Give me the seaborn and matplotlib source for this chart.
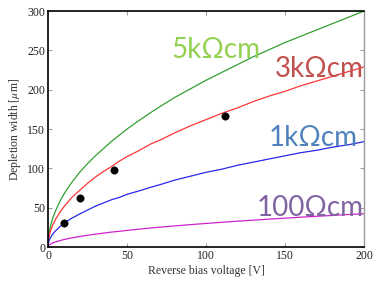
import matplotlib
matplotlib.use("Agg")
import matplotlib.pyplot as plt
import seaborn as sns
import pandas as pd

# Reverse bias voltage [V] at which the curves were read
voltage = [0, 0.25, 0.5, 1, 1.5, 2, 3, 4, 5, 7.5, 10, 12.5, 15, 20, 25, 30,
           35, 40, 45, 50, 57, 65, 72, 80, 90, 100, 110, 120, 130, 140,
           150, 160, 170, 180, 190, 200]

# Depletion width [um] for each resistivity
width_5k = [0, 11, 15, 21, 26, 30, 37, 42, 47, 58, 67, 75, 82, 95, 106, 116,
            125, 134, 142, 150, 160, 171, 180, 190, 201, 212, 222, 232,
            242, 251, 260, 268, 276, 284, 292, 300]
width_3k = [0, 8, 11, 16, 20, 23, 28, 32, 36, 44, 51, 57, 63, 72, 81, 89,
            96, 102, 109, 115, 122, 131, 137, 145, 154, 162, 170, 177,
            185, 192, 198, 205, 211, 217, 223, 229]
width_1k = [0, 4.7, 6.7, 9.5, 11.6, 13.4, 16.4, 18.9, 21, 26, 30, 33.4, 36.6,
            42, 47, 52, 56, 60, 63, 67, 71, 76, 80, 85, 90, 95, 99, 104,
            108, 112, 116, 120, 123, 127, 130, 134]
width_100 = [0, 1.5, 2.1, 3, 3.7, 4.2, 5.2, 6, 6.7, 8.2, 9.5, 10.6, 11.6,
             13.4, 15, 16.4, 17.7, 19, 20, 21.2, 22.6, 24.2, 25.5, 26.8,
             28.5, 30, 31.5, 32.9, 34.2, 35.5, 36.7, 38, 39.1, 40.2, 41.4,
             42.4]

# Measured points
meas_v = [10, 20, 42, 112]
meas_w = [31, 62, 98, 166]

sns.set_style("ticks")
plt.rcParams["font.family"] = ["Liberation Serif", "DejaVu Serif"]
plt.rcParams["mathtext.fontset"] = "stix"

fig = plt.figure(figsize=(3.84, 2.91), dpi=100)
ax = fig.add_axes([0.125, 0.151, 0.823, 0.811])

curves = [(width_5k, "#33a033"), (width_3k, "#ff3535"),
          (width_1k, "#2828ee"), (width_100, "#cc22cc")]
for w, c in curves:
    df = pd.DataFrame({"V": voltage, "W": w})
    sns.lineplot(data=df, x="V", y="W", ax=ax, color=c, linewidth=0.9)

sns.scatterplot(x=meas_v, y=meas_w, ax=ax, color="black", s=28,
                edgecolor="black", zorder=5)

ax.set_xlim(0, 200)
ax.set_ylim(0, 300)
ax.set_xticks([0, 50, 100, 150, 200])
ax.set_yticks([0, 50, 100, 150, 200, 250, 300])
ax.tick_params(direction="in", top=True, right=True, labelsize=8.5,
               length=3, width=0.6, colors="#888888", labelcolor="#222222",
               pad=2)
for s in ["left", "bottom", "top"]:
    ax.spines[s].set_linewidth(1.2)
    ax.spines[s].set_color("black")
ax.spines["right"].set_color("#999999")
ax.spines["right"].set_linewidth(1.0)

ax.set_xlabel("Reverse bias voltage [V]", fontsize=8.5, color="#333333", labelpad=2)
ax.set_ylabel(r"Depletion width [$\mu$m]", fontsize=8.5, color="#333333", labelpad=3)

lab = dict(family=["Lato", "DejaVu Sans"], fontsize=20, transform=ax.transData)
ax.text(78, 250, "5k\u03a9cm", color="#92D050", ha="left", va="center", **lab)
ax.text(200, 226, "3k\u03a9cm", color="#C0504D", ha="right", va="center", **lab)
ax.text(196, 139, "1k\u03a9cm", color="#4F81BD", ha="right", va="center", **lab)
ax.text(200, 50, "100\u03a9cm", color="#8064A2", ha="right", va="center", **lab)

fig.savefig("out.png", dpi=100)
